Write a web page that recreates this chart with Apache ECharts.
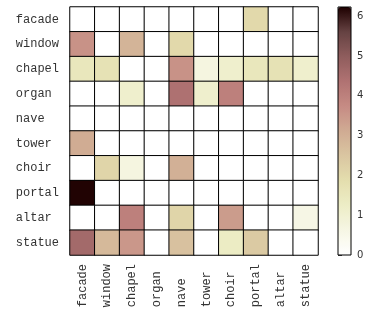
<!DOCTYPE html>
<html>
<head>
<meta charset="utf-8">
<script src="https://cdn.jsdelivr.net/npm/echarts@6/dist/echarts.min.js"></script>
<style>
  html, body { margin: 0; padding: 0; background: #fff; }
  #chart { width: 383px; height: 325px; }
</style>
</head>
<body>
<div id="chart"></div>
<script>
// words on both axes (same order)
const words = ["facade", "window", "chapel", "organ", "nave", "tower", "choir", "portal", "altar", "statue"];

// one row per y word, one value per x word
const rowFacade = [0, 0, 0, 0, 0, 0, 0, 2.0, 0, 0];
const rowWindow = [3.6, 0, 2.9, 0, 2.0, 0, 0, 0, 0, 0];
const rowChapel = [1.5, 1.7, 0, 0, 3.6, 0.7, 1.1, 1.5, 1.7, 1.1];
const rowOrgan = [0, 0, 1.1, 0, 4.4, 1.1, 4.0, 0, 0, 0];
const rowNave = [0, 0, 0, 0, 0, 0, 0, 0, 0, 0];
const rowTower = [3.1, 0, 0, 0, 0, 0, 0, 0, 0, 0];
const rowChoir = [0, 2.1, 0.7, 0, 3.0, 0, 0, 0, 0, 0];
const rowPortal = [6.2, 0, 0, 0, 0, 0, 0, 0, 0, 0];
const rowAltar = [0, 0, 4.0, 0, 2.1, 0, 3.4, 0, 0, 0.6];
const rowStatue = [4.6, 2.8, 3.5, 0, 2.6, 0, 1.3, 2.4, 0, 0];

const rows = [rowFacade, rowWindow, rowChapel, rowOrgan, rowNave, rowTower, rowChoir, rowPortal, rowAltar, rowStatue];

// colour bar range and ticks
const vMax = 6.23;
const barTicks = [0, 1, 2, 3, 4, 5, 6];

// matplotlib pink_r sampled every 0.1
const pinkR = ["#ffffff", "#f6f6e4", "#ededc6", "#e4deae", "#dac6a1", "#d0ab93",
               "#c68b84", "#b07272", "#8f5d5d", "#654242", "#1e0000"];

const cells = [];
rows.forEach((row, y) => {
  row.forEach((v, x) => cells.push([x, y, v]));
});

const pad = (s) => s.padEnd(6, " ");
const mono = "'Liberation Mono', 'Courier New', monospace";

const chart = echarts.init(document.getElementById("chart"), null, { renderer: "canvas" });

chart.setOption({
  animation: false,
  backgroundColor: "#fff",
  grid: [
    { left: 70, top: 7, width: 248, height: 248 },
    { left: 338, top: 7, width: 13, height: 248, show: true, z: 10,
      borderColor: "#000", borderWidth: 1, backgroundColor: "transparent" },
  ],
  xAxis: [
    {
      type: "category",
      gridIndex: 0,
      data: words,
      axisLine: { show: false },
      axisTick: { alignWithLabel: true, length: 4, lineStyle: { color: "#444" } },
      axisLabel: { rotate: 90, margin: 9, fontFamily: mono, fontSize: 12, color: "#333",
                   formatter: pad },
      splitLine: { show: false },
    },
    { type: "value", gridIndex: 1, show: false, min: 0, max: 1 },
  ],
  yAxis: [
    {
      type: "category",
      gridIndex: 0,
      inverse: true,
      data: words,
      axisLine: { show: false },
      axisTick: { alignWithLabel: true, length: 4, lineStyle: { color: "#444" } },
      axisLabel: { margin: 11, fontFamily: mono, fontSize: 12, color: "#333",
                   formatter: pad },
      splitLine: { show: false },
    },
    {
      type: "value",
      gridIndex: 1,
      position: "right",
      min: 0,
      max: vMax,
      interval: 1,
      axisLine: { show: false },
      axisTick: { show: true, length: 4, lineStyle: { color: "#444" },
                  customValues: barTicks },
      axisLabel: { margin: 6, fontFamily: "DejaVu Sans", fontSize: 10, color: "#333",
                   customValues: barTicks },
      splitLine: { show: false },
    },
  ],
  visualMap: {
    type: "continuous",
    seriesIndex: 0,
    min: 0,
    max: vMax,
    calculable: false,
    hoverLink: false,
    left: 338,
    top: 7,
    padding: 0,
    itemWidth: 13,
    itemHeight: 248,
    text: null,
    showLabel: false,
    inRange: { color: pinkR },
  },
  series: [
    {
      type: "heatmap",
      xAxisIndex: 0,
      yAxisIndex: 0,
      data: cells,
      itemStyle: { borderColor: "#000", borderWidth: 1 },
      emphasis: { disabled: true },
    },
  ],
});
</script>
</body>
</html>
